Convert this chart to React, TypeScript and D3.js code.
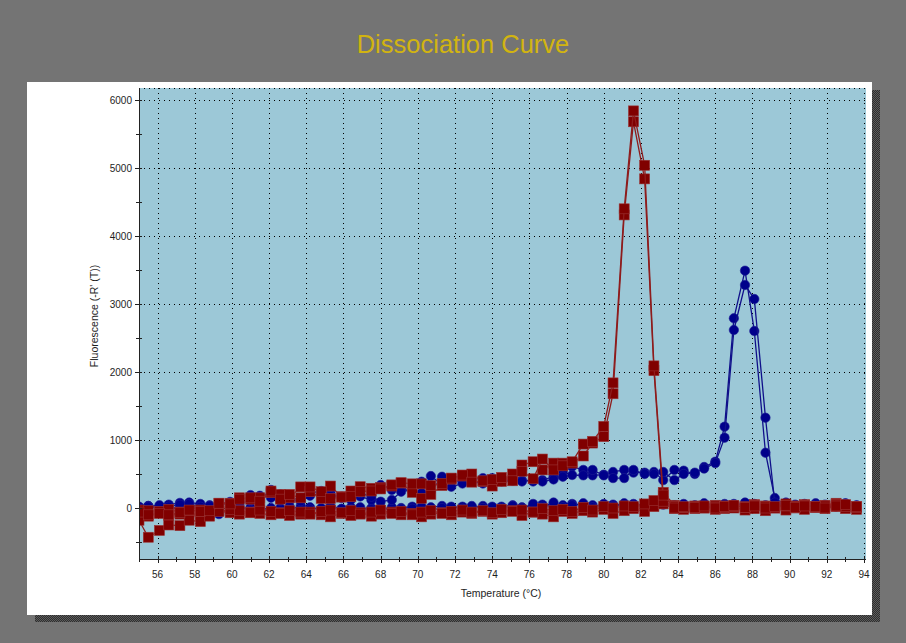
import React from "react";
import * as d3 from "d3";

const TITLE = "Dissociation Curve";
const X_LABEL = "Temperature (°C)";
const Y_LABEL = "Fluorescence (-R' (T))";

const X_TICKS = [56, 58, 60, 62, 64, 66, 68, 70, 72, 74, 76, 78, 80, 82, 84, 86, 88, 90, 92, 94];
const Y_TICKS = [0, 1000, 2000, 3000, 4000, 5000, 6000];

const TEMPS = [
  55.0, 55.5, 56.1, 56.6, 57.2, 57.7, 58.3, 58.8, 59.3, 59.9,
  60.4, 61.0, 61.5, 62.1, 62.6, 63.1, 63.7, 64.2, 64.8, 65.3,
  65.9, 66.4, 66.9, 67.5, 68.0, 68.6, 69.1, 69.7, 70.2, 70.7,
  71.3, 71.8, 72.4, 72.9, 73.5, 74.0, 74.5, 75.1, 75.6, 76.2,
  76.7, 77.3, 77.8, 78.3, 78.9, 79.4, 80.0, 80.5, 81.1, 81.6,
  82.2, 82.7, 83.2, 83.8, 84.3, 84.9, 85.4, 86.0, 86.5, 87.0,
  87.6, 88.1, 88.7, 89.2, 89.8, 90.3, 90.8, 91.4, 91.9, 92.5,
  93.0, 93.6,
];

const RED_A = [
  -180, -430, -330, -250, -260, -180, -200, -120, 70, 70,
  150, 130, 150, 225, 200, 150, 310, 240, 140, 323,
  166, 250, 313, 290, 300, 323, 367, 230, 142, 200,
  330, 424, 470, 500, 390, 323, 390, 500, 632, 680,
  560, 660, 660, 660, 765, 955, 1050, 1680, 4310, 5680,
  4840, 2020, 100, 20, 10, 20, 0, 15, 30, 20,
  10, 40, 20, 0, 30, 20, 40, 10, 30, 50,
  20, 10,
];
const RED_B = [
  -60, -100, -80, -100, -70, -30, -50, -40, 70, 60,
  130, 150, 100, 250, 130, 200, 150, 310, 240, 140,
  160, 166, 240, 250, 280, 340, 372, 355, 355, 330,
  360, 440, 485, 380, 400, 420, 450, 400, 540, 430,
  720, 560, 620, 680, 940, 980, 1200, 1840, 4400, 5840,
  5040, 2090, 190, 0, 20, 10, 30, 0, 20, 40,
  10, 30, 0, 20, 40, 10, 30, 20, 0, 30,
  50, 20,
];
const RED_C = [
  -80, -120, -70, -110, -90, -60, -120, -80, -40, -70,
  -90, -60, -80, -100, -70, -110, -90, -60, -100, -130,
  -80, -110, -70, -120, -90, -60, -100, -80, -130, -90,
  -70, -100, -60, -80, -50, -90, -70, -40, -110, -60,
  -90, -130, -50, -80, -40, -60, -20, -80, -40, -10,
  -50, 20, 60, -10, -20, -10, 0, -20, -10, 0,
  -30, -10, -40, 0, -30, 0, -20, 10, -10, 20,
  -10, -20,
];
const RED_D = [
  -30, -40, -50, -20, -60, -40, -30, -70, -50, -20,
  -40, -70, -30, -50, -80, -40, -60, -90, -50, -30,
  -70, -40, -90, -60, -30, -80, -50, -100, -60, -40,
  -80, -50, -30, -60, -40, -70, -20, -50, -30, -60,
  -10, -40, -20, -50, 10, -30, 20, 0, 30, 20,
  60, 110, 230, 40, 10, 30, 20, 40, 10, 30,
  20, 50, 30, 10, 60, 30, 50, 20, 40, 70,
  40, 20,
];

const BLUE_A = [
  20, 30, 10, 50, 75, 80, 60, 40, 70, 50,
  100, 190, 130, 265, 108, 150, 120, 220, 250, 220,
  147, 200, 170, 118, 338, 265, 290, 240, 220, 470,
  340, 410, 390, 420, 440, 390, 410, 410, 410, 390,
  410, 460, 534, 607, 560, 480, 490, 530, 560, 520,
  520, 530, 410, 560, 549, 500, 603, 681, 1196, 2790,
  3490, 2603, 813, 147, 40, 20, 50, 30, 10, 40,
  60, 20,
];
const BLUE_B = [
  -10, 20, 40, 20, 50, 60, 20, 30, 60, 90,
  60, 120, 180, 150, 200, 108, 100, 180, 220, 176,
  166, 120, 220, 166, 93, 118, 240, 265, 387, 240,
  460, 313, 360, 390, 360, 440, 390, 400, 390, 420,
  390, 420, 460, 485, 480, 560, 480, 440, 440, 560,
  500, 500, 530, 410, 500, 520, 580, 660, 1034, 2618,
  3280, 3073, 1328, 80, 20, 40, 10, 50, 30, 20,
  40, 30,
];
const BLUE_C = [
  10, 0, 20, -10, 10, 30, -20, 0, -30, -60,
  -10, 10, -20, 0, -30, 20, -10, 10, -20, 0,
  -20, 10, -30, 0, 10, -20, 0, 20, -10, 10,
  30, 0, 20, 10, 30, 0, 20, 40, 10, 30,
  50, 20, 40, 60, 30, 40, 20, 50, 30, 60,
  40, 30, 50, 20, 40, 30, 50, 20, 40, 60,
  30, 50, 40, 70, 30, 50, 40, 20, 50, 30,
  60, 30,
];
const BLUE_D = [
  -20, 30, -10, 20, -20, 0, 30, -40, -90, -20,
  20, -30, 10, -40, 0, -20, 30, -20, 0, 30,
  -10, -30, 10, -20, -40, 10, -20, -10, 20, -30,
  0, 20, -10, 30, 0, 20, 0, 30, 0, 60,
  20, 80, 10, 40, 70, 10, 60, 30, 70, 40,
  20, 60, 70, 40, 60, 40, 70, 30, 60, 40,
  80, 60, 20, 60, 80, 40, 60, 70, 30, 50,
  70, 40,
];

const BLUE_SERIES = [BLUE_C, BLUE_D, BLUE_A, BLUE_B];
const RED_SERIES = [RED_C, RED_D, RED_A, RED_B];

const FONT = "'Liberation Sans', Arial, sans-serif";

export default function App() {
  const W = 906;
  const H = 643;
  const plot = { left: 139, right: 866, top: 88, bottom: 559 };
  const x = d3.scaleLinear().domain([55, 94]).range([139, 864]);
  const y = d3.scaleLinear().domain([0, 6000]).range([508, 100]);

  const line = d3
    .line<number>()
    .x((_, i) => x(TEMPS[i]))
    .y((d) => y(d));

  const minorX = d3.range(55, 95, 1);
  const minorY = d3.range(-500, 6001, 500);

  const drawBlue = (s: number[], k: number) => (
    <g key={"b" + k}>
      <path d={line(s) || ""} fill="none" stroke="#10108a" strokeWidth={1.3} />
      {s.map((v, i) => (
        <circle key={i} cx={x(TEMPS[i])} cy={y(v)} r={4.7} fill="#00008b" stroke="#1c1c96" strokeWidth={0.6} />
      ))}
    </g>
  );
  const drawRed = (s: number[], k: number) => (
    <g key={"r" + k}>
      <path d={line(s) || ""} fill="none" stroke="#8e1c1c" strokeWidth={1.3} />
      {s.map((v, i) => (
        <rect key={i} x={x(TEMPS[i]) - 5} y={y(v) - 5} width={10} height={10} fill="#800000" stroke="#9a3434" strokeWidth={0.6} />
      ))}
    </g>
  );

  return (
    <svg width={W} height={H} style={{ position: "absolute", left: 0, top: 0, display: "block" }}>
      <defs>
        <pattern id="chk" width={2} height={2} patternUnits="userSpaceOnUse">
          <rect width={2} height={2} fill="#2e2e2e" />
          <rect width={1} height={1} fill="#5c5c5c" />
          <rect x={1} y={1} width={1} height={1} fill="#5c5c5c" />
        </pattern>
        <clipPath id="pc">
          <rect x={plot.left} y={plot.top} width={plot.right - plot.left} height={plot.bottom - plot.top} />
        </clipPath>
      </defs>
      <rect width={W} height={H} fill="#747474" />
      <text x={463} y={53} textAnchor="middle" fill="#d2b410" fontFamily={FONT} fontSize={25.5}>
        {TITLE}
      </text>
      {/* panel shadow */}
      <rect x={35} y={615} width={845} height={7} fill="url(#chk)" />
      <rect x={872} y={90} width={8} height={532} fill="url(#chk)" />
      <rect x={27} y={82} width={845} height={533} fill="#ffffff" />
      {/* plot background */}
      <rect x={plot.left} y={plot.top} width={plot.right - plot.left} height={plot.bottom - plot.top} fill="#9cc8d7" />
      {/* grid */}
      <g stroke="#000" strokeWidth={1} strokeDasharray="1,4" shapeRendering="crispEdges">
        {X_TICKS.map((t) => (
          <line key={"gx" + t} x1={Math.round(x(t)) + 0.5} x2={Math.round(x(t)) + 0.5} y1={plot.top} y2={plot.bottom} />
        ))}
        {Y_TICKS.map((t) => (
          <line key={"gy" + t} x1={plot.left} x2={plot.right} y1={Math.round(y(t)) + 0.5} y2={Math.round(y(t)) + 0.5} />
        ))}
        <line x1={plot.left} x2={plot.right} y1={plot.top + 0.5} y2={plot.top + 0.5} />
      </g>
      {/* data */}
      <g clipPath="url(#pc)">
        {BLUE_SERIES.map(drawBlue)}
        {RED_SERIES.map(drawRed)}
      </g>
      {/* axes */}
      <g stroke="#222" strokeWidth={1} shapeRendering="crispEdges">
        <line x1={plot.left + 0.5} x2={plot.left + 0.5} y1={plot.top} y2={plot.bottom + 1} />
        <line x1={plot.left} x2={plot.right} y1={plot.bottom + 0.5} y2={plot.bottom + 0.5} />
        {minorX.map((t) => (
          <line
            key={"tx" + t}
            x1={Math.round(x(t)) + 0.5}
            x2={Math.round(x(t)) + 0.5}
            y1={plot.bottom - (t % 2 === 0 ? 3 : 2)}
            y2={plot.bottom + (t % 2 === 0 ? 4 : 3)}
          />
        ))}
        {minorY.map((t) => (
          <line
            key={"ty" + t}
            x1={plot.left - (t % 1000 === 0 ? 4 : 3)}
            x2={plot.left + 3}
            y1={Math.round(y(t)) + 0.5}
            y2={Math.round(y(t)) + 0.5}
          />
        ))}
      </g>
      <g fontFamily={FONT} fontSize={10} fill="#1e1e1e">
        {X_TICKS.map((t) => (
          <text key={"lx" + t} x={x(t)} y={578} textAnchor="middle">
            {t}
          </text>
        ))}
        {Y_TICKS.map((t) => (
          <text key={"ly" + t} x={132} y={y(t) + 3.5} textAnchor="end">
            {t}
          </text>
        ))}
        <text x={501} y={597} textAnchor="middle" fontSize={10.5}>
          {X_LABEL}
        </text>
        <text transform="translate(98,316) rotate(-90)" textAnchor="middle" fontSize={10.5}>
          {Y_LABEL}
        </text>
      </g>
    </svg>
  );
}
